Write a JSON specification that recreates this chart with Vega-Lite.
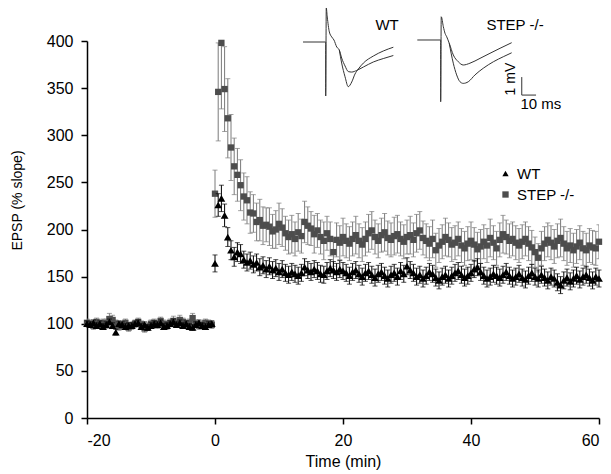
{
"$schema":"https://vega.github.io/schema/vega-lite/v6.json",
"width":512,"height":377,
"autosize":"none",
"padding":{"left":87,"top":41,"right":12,"bottom":56},
"background":"white",
"config":{"font":"Liberation Sans","view":{"stroke":null},
 "axis":{"grid":false,"domainColor":"black","domainWidth":1.5,"tickColor":"black","tickWidth":1.5,"tickSize":6,"labelFontSize":16,"labelColor":"black","titleFontSize":15,"titleFontWeight":"normal","titleColor":"black"},
 "legend":{"orient":"none","legendX":411,"legendY":125,"labelFontSize":15,"symbolSize":40,"rowPadding":5,"labelColor":"black","symbolStrokeWidth":0}
},
"datasets":{
"ep":[
{"g":"STEP -/-","t":-20,"v":101,"e":4},{"g":"STEP -/-","t":-19.5,"v":100,"e":4},{"g":"STEP -/-","t":-19,"v":98,"e":4},{"g":"STEP -/-","t":-18.5,"v":102,"e":4},{"g":"STEP -/-","t":-18,"v":99,"e":4},{"g":"STEP -/-","t":-17.5,"v":101,"e":4},{"g":"STEP -/-","t":-17,"v":100,"e":5},{"g":"STEP -/-","t":-16.5,"v":105,"e":6},{"g":"STEP -/-","t":-16,"v":104,"e":5},{"g":"STEP -/-","t":-15.5,"v":100,"e":4},
{"g":"STEP -/-","t":-15,"v":97,"e":4},{"g":"STEP -/-","t":-14.5,"v":99,"e":4},{"g":"STEP -/-","t":-14,"v":101,"e":4},{"g":"STEP -/-","t":-13.5,"v":96,"e":4},{"g":"STEP -/-","t":-13,"v":98,"e":4},{"g":"STEP -/-","t":-12.5,"v":100,"e":4},{"g":"STEP -/-","t":-12,"v":102,"e":4},{"g":"STEP -/-","t":-11.5,"v":99,"e":4},{"g":"STEP -/-","t":-11,"v":95,"e":4},{"g":"STEP -/-","t":-10.5,"v":97,"e":4},
{"g":"STEP -/-","t":-10,"v":100,"e":4},{"g":"STEP -/-","t":-9.5,"v":101,"e":4},{"g":"STEP -/-","t":-9,"v":99,"e":4},{"g":"STEP -/-","t":-8.5,"v":103,"e":4},{"g":"STEP -/-","t":-8,"v":100,"e":4},{"g":"STEP -/-","t":-7.5,"v":98,"e":4},{"g":"STEP -/-","t":-7,"v":101,"e":4},{"g":"STEP -/-","t":-6.5,"v":103,"e":5},{"g":"STEP -/-","t":-6,"v":100,"e":4},{"g":"STEP -/-","t":-5.5,"v":104,"e":5},
{"g":"STEP -/-","t":-5,"v":102,"e":4},{"g":"STEP -/-","t":-4.5,"v":99,"e":4},{"g":"STEP -/-","t":-4,"v":101,"e":4},{"g":"STEP -/-","t":-3.5,"v":106,"e":5},{"g":"STEP -/-","t":-3,"v":100,"e":4},{"g":"STEP -/-","t":-2.5,"v":98,"e":4},{"g":"STEP -/-","t":-2,"v":99,"e":4},{"g":"STEP -/-","t":-1.5,"v":101,"e":4},{"g":"STEP -/-","t":-1,"v":100,"e":4},{"g":"STEP -/-","t":-0.5,"v":99,"e":4},
{"g":"STEP -/-","t":0,"v":238,"e":25},{"g":"STEP -/-","t":0.5,"v":346,"e":52},{"g":"STEP -/-","t":1,"v":398,"e":70},{"g":"STEP -/-","t":1.5,"v":349,"e":45},{"g":"STEP -/-","t":2,"v":318,"e":42},{"g":"STEP -/-","t":2.5,"v":287,"e":35},{"g":"STEP -/-","t":3,"v":267,"e":30},{"g":"STEP -/-","t":3.5,"v":258,"e":28},{"g":"STEP -/-","t":4,"v":247,"e":27},{"g":"STEP -/-","t":4.5,"v":235,"e":25},
{"g":"STEP -/-","t":5,"v":231,"e":25},{"g":"STEP -/-","t":5.5,"v":218,"e":22},{"g":"STEP -/-","t":6,"v":217,"e":20},{"g":"STEP -/-","t":6.5,"v":208,"e":20},{"g":"STEP -/-","t":7,"v":210,"e":22},{"g":"STEP -/-","t":7.5,"v":204,"e":20},{"g":"STEP -/-","t":8,"v":205,"e":18},{"g":"STEP -/-","t":8.5,"v":203,"e":20},{"g":"STEP -/-","t":9,"v":198,"e":18},{"g":"STEP -/-","t":9.5,"v":200,"e":20},
{"g":"STEP -/-","t":10,"v":206,"e":22},{"g":"STEP -/-","t":10.5,"v":202,"e":20},{"g":"STEP -/-","t":11,"v":196,"e":18},{"g":"STEP -/-","t":11.5,"v":192,"e":18},{"g":"STEP -/-","t":12,"v":195,"e":20},{"g":"STEP -/-","t":12.5,"v":190,"e":18},{"g":"STEP -/-","t":13,"v":197,"e":20},{"g":"STEP -/-","t":13.5,"v":193,"e":18},{"g":"STEP -/-","t":14,"v":208,"e":22},{"g":"STEP -/-","t":14.5,"v":204,"e":20},
{"g":"STEP -/-","t":15,"v":201,"e":18},{"g":"STEP -/-","t":15.5,"v":195,"e":20},{"g":"STEP -/-","t":16,"v":199,"e":18},{"g":"STEP -/-","t":16.5,"v":192,"e":18},{"g":"STEP -/-","t":17,"v":188,"e":20},{"g":"STEP -/-","t":17.5,"v":196,"e":18},{"g":"STEP -/-","t":18,"v":190,"e":18},{"g":"STEP -/-","t":18.5,"v":176,"e":15},{"g":"STEP -/-","t":19,"v":189,"e":18},{"g":"STEP -/-","t":19.5,"v":186,"e":18},
{"g":"STEP -/-","t":20,"v":192,"e":20},{"g":"STEP -/-","t":20.5,"v":188,"e":18},{"g":"STEP -/-","t":21,"v":185,"e":18},{"g":"STEP -/-","t":21.5,"v":190,"e":18},{"g":"STEP -/-","t":22,"v":194,"e":20},{"g":"STEP -/-","t":22.5,"v":188,"e":18},{"g":"STEP -/-","t":23,"v":184,"e":18},{"g":"STEP -/-","t":23.5,"v":190,"e":18},{"g":"STEP -/-","t":24,"v":196,"e":20},{"g":"STEP -/-","t":24.5,"v":199,"e":20},
{"g":"STEP -/-","t":25,"v":192,"e":18},{"g":"STEP -/-","t":25.5,"v":188,"e":18},{"g":"STEP -/-","t":26,"v":194,"e":18},{"g":"STEP -/-","t":26.5,"v":197,"e":20},{"g":"STEP -/-","t":27,"v":191,"e":18},{"g":"STEP -/-","t":27.5,"v":189,"e":18},{"g":"STEP -/-","t":28,"v":193,"e":20},{"g":"STEP -/-","t":28.5,"v":195,"e":20},{"g":"STEP -/-","t":29,"v":190,"e":18},{"g":"STEP -/-","t":29.5,"v":187,"e":18},
{"g":"STEP -/-","t":30,"v":192,"e":18},{"g":"STEP -/-","t":30.5,"v":194,"e":20},{"g":"STEP -/-","t":31,"v":189,"e":18},{"g":"STEP -/-","t":31.5,"v":196,"e":20},{"g":"STEP -/-","t":32,"v":199,"e":20},{"g":"STEP -/-","t":32.5,"v":191,"e":18},{"g":"STEP -/-","t":33,"v":188,"e":18},{"g":"STEP -/-","t":33.5,"v":185,"e":18},{"g":"STEP -/-","t":34,"v":190,"e":20},{"g":"STEP -/-","t":34.5,"v":178,"e":18},
{"g":"STEP -/-","t":35,"v":183,"e":18},{"g":"STEP -/-","t":35.5,"v":187,"e":18},{"g":"STEP -/-","t":36,"v":192,"e":20},{"g":"STEP -/-","t":36.5,"v":189,"e":18},{"g":"STEP -/-","t":37,"v":184,"e":18},{"g":"STEP -/-","t":37.5,"v":186,"e":18},{"g":"STEP -/-","t":38,"v":190,"e":18},{"g":"STEP -/-","t":38.5,"v":183,"e":18},{"g":"STEP -/-","t":39,"v":180,"e":18},{"g":"STEP -/-","t":39.5,"v":185,"e":18},
{"g":"STEP -/-","t":40,"v":188,"e":20},{"g":"STEP -/-","t":40.5,"v":184,"e":18},{"g":"STEP -/-","t":41,"v":179,"e":18},{"g":"STEP -/-","t":41.5,"v":182,"e":18},{"g":"STEP -/-","t":42,"v":187,"e":18},{"g":"STEP -/-","t":42.5,"v":183,"e":18},{"g":"STEP -/-","t":43,"v":191,"e":20},{"g":"STEP -/-","t":43.5,"v":186,"e":18},{"g":"STEP -/-","t":44,"v":180,"e":18},{"g":"STEP -/-","t":44.5,"v":189,"e":18},
{"g":"STEP -/-","t":45,"v":195,"e":20},{"g":"STEP -/-","t":45.5,"v":192,"e":18},{"g":"STEP -/-","t":46,"v":188,"e":18},{"g":"STEP -/-","t":46.5,"v":190,"e":18},{"g":"STEP -/-","t":47,"v":186,"e":18},{"g":"STEP -/-","t":47.5,"v":183,"e":18},{"g":"STEP -/-","t":48,"v":187,"e":18},{"g":"STEP -/-","t":48.5,"v":190,"e":18},{"g":"STEP -/-","t":49,"v":185,"e":18},{"g":"STEP -/-","t":49.5,"v":181,"e":18},
{"g":"STEP -/-","t":50,"v":176,"e":16},{"g":"STEP -/-","t":50.5,"v":170,"e":15},{"g":"STEP -/-","t":51,"v":180,"e":18},{"g":"STEP -/-","t":51.5,"v":185,"e":18},{"g":"STEP -/-","t":52,"v":189,"e":18},{"g":"STEP -/-","t":52.5,"v":186,"e":18},{"g":"STEP -/-","t":53,"v":182,"e":18},{"g":"STEP -/-","t":53.5,"v":188,"e":18},{"g":"STEP -/-","t":54,"v":191,"e":20},{"g":"STEP -/-","t":54.5,"v":185,"e":18},
{"g":"STEP -/-","t":55,"v":180,"e":18},{"g":"STEP -/-","t":55.5,"v":183,"e":18},{"g":"STEP -/-","t":56,"v":178,"e":18},{"g":"STEP -/-","t":56.5,"v":182,"e":18},{"g":"STEP -/-","t":57,"v":186,"e":18},{"g":"STEP -/-","t":57.5,"v":180,"e":18},{"g":"STEP -/-","t":58,"v":178,"e":18},{"g":"STEP -/-","t":58.5,"v":183,"e":18},{"g":"STEP -/-","t":59,"v":181,"e":18},{"g":"STEP -/-","t":59.5,"v":180,"e":18},
{"g":"STEP -/-","t":60,"v":187,"e":18},
{"g":"WT","t":-20,"v":100,"e":3},{"g":"WT","t":-19.5,"v":99,"e":3},{"g":"WT","t":-19,"v":101,"e":3},{"g":"WT","t":-18.5,"v":98,"e":3},{"g":"WT","t":-18,"v":100,"e":3},{"g":"WT","t":-17.5,"v":97,"e":3},{"g":"WT","t":-17,"v":99,"e":3},{"g":"WT","t":-16.5,"v":102,"e":3},{"g":"WT","t":-16,"v":98,"e":3},{"g":"WT","t":-15.5,"v":91,"e":3},
{"g":"WT","t":-15,"v":100,"e":3},{"g":"WT","t":-14.5,"v":99,"e":3},{"g":"WT","t":-14,"v":97,"e":3},{"g":"WT","t":-13.5,"v":98,"e":3},{"g":"WT","t":-13,"v":98,"e":3},{"g":"WT","t":-12.5,"v":100,"e":3},{"g":"WT","t":-12,"v":101,"e":3},{"g":"WT","t":-11.5,"v":97,"e":3},{"g":"WT","t":-11,"v":99,"e":3},{"g":"WT","t":-10.5,"v":96,"e":3},
{"g":"WT","t":-10,"v":98,"e":3},{"g":"WT","t":-9.5,"v":100,"e":3},{"g":"WT","t":-9,"v":99,"e":3},{"g":"WT","t":-8.5,"v":101,"e":3},{"g":"WT","t":-8,"v":97,"e":3},{"g":"WT","t":-7.5,"v":98,"e":3},{"g":"WT","t":-7,"v":100,"e":3},{"g":"WT","t":-6.5,"v":102,"e":3},{"g":"WT","t":-6,"v":99,"e":3},{"g":"WT","t":-5.5,"v":101,"e":3},
{"g":"WT","t":-5,"v":98,"e":3},{"g":"WT","t":-4.5,"v":100,"e":3},{"g":"WT","t":-4,"v":97,"e":3},{"g":"WT","t":-3.5,"v":96,"e":3},{"g":"WT","t":-3,"v":99,"e":3},{"g":"WT","t":-2.5,"v":101,"e":3},{"g":"WT","t":-2,"v":98,"e":3},{"g":"WT","t":-1.5,"v":97,"e":3},{"g":"WT","t":-1,"v":99,"e":3},{"g":"WT","t":-0.5,"v":100,"e":3},
{"g":"WT","t":0,"v":164,"e":9},{"g":"WT","t":0.5,"v":226,"e":12},{"g":"WT","t":1,"v":233,"e":14},{"g":"WT","t":1.5,"v":215,"e":12},{"g":"WT","t":2,"v":192,"e":10},{"g":"WT","t":2.5,"v":178,"e":10},{"g":"WT","t":3,"v":171,"e":10},{"g":"WT","t":3.5,"v":176,"e":10},{"g":"WT","t":4,"v":174,"e":10},{"g":"WT","t":4.5,"v":168,"e":9},
{"g":"WT","t":5,"v":165,"e":9},{"g":"WT","t":5.5,"v":167,"e":9},{"g":"WT","t":6,"v":163,"e":9},{"g":"WT","t":6.5,"v":165,"e":9},{"g":"WT","t":7,"v":160,"e":9},{"g":"WT","t":7.5,"v":162,"e":9},{"g":"WT","t":8,"v":158,"e":9},{"g":"WT","t":8.5,"v":161,"e":9},{"g":"WT","t":9,"v":157,"e":9},{"g":"WT","t":9.5,"v":159,"e":9},
{"g":"WT","t":10,"v":155,"e":9},{"g":"WT","t":10.5,"v":158,"e":9},{"g":"WT","t":11,"v":154,"e":9},{"g":"WT","t":11.5,"v":152,"e":9},{"g":"WT","t":12,"v":155,"e":9},{"g":"WT","t":12.5,"v":153,"e":9},{"g":"WT","t":13,"v":151,"e":9},{"g":"WT","t":13.5,"v":154,"e":9},{"g":"WT","t":14,"v":160,"e":9},{"g":"WT","t":14.5,"v":157,"e":9},
{"g":"WT","t":15,"v":155,"e":9},{"g":"WT","t":15.5,"v":158,"e":9},{"g":"WT","t":16,"v":156,"e":9},{"g":"WT","t":16.5,"v":153,"e":9},{"g":"WT","t":17,"v":152,"e":9},{"g":"WT","t":17.5,"v":156,"e":9},{"g":"WT","t":18,"v":159,"e":9},{"g":"WT","t":18.5,"v":157,"e":9},{"g":"WT","t":19,"v":155,"e":9},{"g":"WT","t":19.5,"v":158,"e":9},
{"g":"WT","t":20,"v":156,"e":9},{"g":"WT","t":20.5,"v":154,"e":9},{"g":"WT","t":21,"v":151,"e":9},{"g":"WT","t":21.5,"v":155,"e":9},{"g":"WT","t":22,"v":157,"e":9},{"g":"WT","t":22.5,"v":153,"e":9},{"g":"WT","t":23,"v":150,"e":9},{"g":"WT","t":23.5,"v":154,"e":9},{"g":"WT","t":24,"v":156,"e":9},{"g":"WT","t":24.5,"v":152,"e":9},
{"g":"WT","t":25,"v":149,"e":9},{"g":"WT","t":25.5,"v":153,"e":9},{"g":"WT","t":26,"v":155,"e":9},{"g":"WT","t":26.5,"v":151,"e":9},{"g":"WT","t":27,"v":148,"e":9},{"g":"WT","t":27.5,"v":152,"e":9},{"g":"WT","t":28,"v":154,"e":9},{"g":"WT","t":28.5,"v":150,"e":9},{"g":"WT","t":29,"v":156,"e":9},{"g":"WT","t":29.5,"v":153,"e":9},
{"g":"WT","t":30,"v":161,"e":9},{"g":"WT","t":30.5,"v":157,"e":9},{"g":"WT","t":31,"v":154,"e":9},{"g":"WT","t":31.5,"v":150,"e":9},{"g":"WT","t":32,"v":152,"e":9},{"g":"WT","t":32.5,"v":148,"e":9},{"g":"WT","t":33,"v":151,"e":9},{"g":"WT","t":33.5,"v":155,"e":9},{"g":"WT","t":34,"v":153,"e":9},{"g":"WT","t":34.5,"v":149,"e":9},
{"g":"WT","t":35,"v":146,"e":9},{"g":"WT","t":35.5,"v":150,"e":9},{"g":"WT","t":36,"v":152,"e":9},{"g":"WT","t":36.5,"v":148,"e":9},{"g":"WT","t":37,"v":151,"e":9},{"g":"WT","t":37.5,"v":154,"e":9},{"g":"WT","t":38,"v":156,"e":9},{"g":"WT","t":38.5,"v":152,"e":9},{"g":"WT","t":39,"v":149,"e":9},{"g":"WT","t":39.5,"v":151,"e":9},
{"g":"WT","t":40,"v":154,"e":9},{"g":"WT","t":40.5,"v":158,"e":9},{"g":"WT","t":41,"v":160,"e":9},{"g":"WT","t":41.5,"v":155,"e":9},{"g":"WT","t":42,"v":151,"e":9},{"g":"WT","t":42.5,"v":148,"e":9},{"g":"WT","t":43,"v":150,"e":9},{"g":"WT","t":43.5,"v":153,"e":9},{"g":"WT","t":44,"v":151,"e":9},{"g":"WT","t":44.5,"v":149,"e":9},
{"g":"WT","t":45,"v":152,"e":9},{"g":"WT","t":45.5,"v":155,"e":9},{"g":"WT","t":46,"v":151,"e":9},{"g":"WT","t":46.5,"v":148,"e":9},{"g":"WT","t":47,"v":150,"e":9},{"g":"WT","t":47.5,"v":153,"e":9},{"g":"WT","t":48,"v":149,"e":9},{"g":"WT","t":48.5,"v":147,"e":9},{"g":"WT","t":49,"v":151,"e":9},{"g":"WT","t":49.5,"v":154,"e":9},
{"g":"WT","t":50,"v":150,"e":9},{"g":"WT","t":50.5,"v":148,"e":9},{"g":"WT","t":51,"v":152,"e":9},{"g":"WT","t":51.5,"v":149,"e":9},{"g":"WT","t":52,"v":146,"e":9},{"g":"WT","t":52.5,"v":150,"e":9},{"g":"WT","t":53,"v":148,"e":9},{"g":"WT","t":53.5,"v":144,"e":9},{"g":"WT","t":54,"v":141,"e":9},{"g":"WT","t":54.5,"v":146,"e":9},
{"g":"WT","t":55,"v":149,"e":9},{"g":"WT","t":55.5,"v":145,"e":9},{"g":"WT","t":56,"v":148,"e":9},{"g":"WT","t":56.5,"v":151,"e":9},{"g":"WT","t":57,"v":147,"e":9},{"g":"WT","t":57.5,"v":150,"e":9},{"g":"WT","t":58,"v":152,"e":9},{"g":"WT","t":58.5,"v":149,"e":9},{"g":"WT","t":59,"v":146,"e":9},{"g":"WT","t":59.5,"v":150,"e":9},
{"g":"WT","t":60,"v":148,"e":9}
],
"tr":[
{"p":"WT","s":"a","i":0,"ms":-16.2,"mv":0},{"p":"WT","s":"a","i":1,"ms":0,"mv":0},{"p":"WT","s":"a","i":2,"ms":0,"mv":-3.0},{"p":"WT","s":"a","i":3,"ms":0.4,"mv":1.89},{"p":"WT","s":"a","i":4,"ms":1.1,"mv":1.39},{"p":"WT","s":"a","i":5,"ms":2.6,"mv":0.56},{"p":"WT","s":"a","i":6,"ms":4.3,"mv":0.28},{"p":"WT","s":"a","i":7,"ms":5.9,"mv":0.11},{"p":"WT","s":"a","i":8,"ms":7.9,"mv":-0.28},{"p":"WT","s":"a","i":9,"ms":9.7,"mv":-0.44},
{"p":"WT","s":"a","i":10,"ms":11.4,"mv":-0.89},{"p":"WT","s":"a","i":11,"ms":13.8,"mv":-1.33},{"p":"WT","s":"a","i":12,"ms":16.1,"mv":-1.64},{"p":"WT","s":"a","i":13,"ms":18.6,"mv":-1.67},{"p":"WT","s":"a","i":14,"ms":22.1,"mv":-1.58},{"p":"WT","s":"a","i":15,"ms":26.9,"mv":-1.39},{"p":"WT","s":"a","i":16,"ms":34.0,"mv":-1.11},{"p":"WT","s":"a","i":17,"ms":41.1,"mv":-0.92},{"p":"WT","s":"a","i":18,"ms":48.3,"mv":-0.75},
{"p":"WT","s":"b","i":0,"ms":9.7,"mv":-0.44},{"p":"WT","s":"b","i":1,"ms":11.4,"mv":-1.17},{"p":"WT","s":"b","i":2,"ms":13.8,"mv":-1.93},{"p":"WT","s":"b","i":3,"ms":16.1,"mv":-2.48},{"p":"WT","s":"b","i":4,"ms":18.6,"mv":-2.22},{"p":"WT","s":"b","i":5,"ms":20.9,"mv":-1.78},{"p":"WT","s":"b","i":6,"ms":23.3,"mv":-1.5},{"p":"WT","s":"b","i":7,"ms":26.9,"mv":-1.17},{"p":"WT","s":"b","i":8,"ms":34.0,"mv":-0.78},{"p":"WT","s":"b","i":9,"ms":41.1,"mv":-0.5},{"p":"WT","s":"b","i":10,"ms":48.3,"mv":-0.29},
{"p":"STEP","s":"a","i":0,"ms":-16.7,"mv":0},{"p":"STEP","s":"a","i":1,"ms":0,"mv":0},{"p":"STEP","s":"a","i":2,"ms":0,"mv":-3.43},{"p":"STEP","s":"a","i":3,"ms":0.4,"mv":1.29},{"p":"STEP","s":"a","i":4,"ms":1.9,"mv":0.74},{"p":"STEP","s":"a","i":5,"ms":3.1,"mv":0.37},{"p":"STEP","s":"a","i":6,"ms":4.3,"mv":0.18},{"p":"STEP","s":"a","i":7,"ms":6.1,"mv":-0.18},
{"p":"STEP","s":"a","i":8,"ms":9.0,"mv":-0.83},{"p":"STEP","s":"a","i":9,"ms":12.6,"mv":-1.21},{"p":"STEP","s":"a","i":10,"ms":16.1,"mv":-1.39},{"p":"STEP","s":"a","i":11,"ms":20.9,"mv":-1.29},{"p":"STEP","s":"a","i":12,"ms":28.1,"mv":-1.02},{"p":"STEP","s":"a","i":13,"ms":35.2,"mv":-0.74},{"p":"STEP","s":"a","i":14,"ms":42.4,"mv":-0.46},{"p":"STEP","s":"a","i":15,"ms":50.7,"mv":-0.15},
{"p":"STEP","s":"b","i":0,"ms":6.1,"mv":-0.18},{"p":"STEP","s":"b","i":1,"ms":9.0,"mv":-1.29},{"p":"STEP","s":"b","i":2,"ms":11.4,"mv":-1.94},{"p":"STEP","s":"b","i":3,"ms":13.8,"mv":-2.32},{"p":"STEP","s":"b","i":4,"ms":16.1,"mv":-2.41},{"p":"STEP","s":"b","i":5,"ms":19.7,"mv":-2.32},{"p":"STEP","s":"b","i":6,"ms":24.5,"mv":-1.94},{"p":"STEP","s":"b","i":7,"ms":30.4,"mv":-1.57},{"p":"STEP","s":"b","i":8,"ms":37.6,"mv":-1.21},{"p":"STEP","s":"b","i":9,"ms":44.7,"mv":-0.93},{"p":"STEP","s":"b","i":10,"ms":50.7,"mv":-0.71},
{"p":"STEP","s":"bar","i":0,"ms":57.9,"mv":-2.06},{"p":"STEP","s":"bar","i":1,"ms":57.9,"mv":-3.06},{"p":"STEP","s":"bar","i":2,"ms":68.1,"mv":-3.06}
]
},
"layer":[
{"data":{"name":"ep"},
 "encoding":{
  "x":{"field":"t","type":"quantitative","scale":{"domain":[-20,60],"nice":false,"zero":false},"axis":{"title":"Time (min)","values":[-20,0,20,40,60],"labelExpr":"'' + datum.value","labelPadding":8,"titlePadding":5,"titleFontSize":16}},
  "y":{"field":"v","type":"quantitative","scale":{"domain":[0,400],"nice":false},"axis":{"title":"EPSP (% slope)","values":[0,50,100,150,200,250,300,350,400],"labelPadding":8,"titlePadding":22,"titleY":159,"titleFontSize":14}}
 },
 "layer":[
  {"transform":[{"filter":"datum.g == 'STEP -/-'"}],"mark":{"type":"errorbar","ticks":true,"color":"#7a7a7a","clip":true},"encoding":{"yError":{"field":"e"}}},
  {"transform":[{"filter":"datum.g == 'STEP -/-'"}],"mark":{"type":"point","filled":true,"opacity":1,"size":40},
   "encoding":{"color":{"field":"g","type":"nominal","scale":{"domain":["WT","STEP -/-"],"range":["#000000","#4d4d4d"]},"legend":{"title":null,"orient":"none","legendX":411,"legendY":125}},
               "shape":{"field":"g","type":"nominal","scale":{"domain":["WT","STEP -/-"],"range":["triangle-up","square"]},"legend":{"title":null,"orient":"none","legendX":411,"legendY":125}}}},
  {"transform":[{"filter":"datum.g == 'WT'"}],"mark":{"type":"errorbar","ticks":true,"color":"#000000"},"encoding":{"yError":{"field":"e"}}},
  {"transform":[{"filter":"datum.g == 'WT'"}],"mark":{"type":"point","filled":true,"opacity":1,"size":60},
   "encoding":{"color":{"field":"g","type":"nominal","scale":{"domain":["WT","STEP -/-"],"range":["#000000","#4d4d4d"]},"legend":{"title":null,"orient":"none","legendX":411,"legendY":125}},
               "shape":{"field":"g","type":"nominal","scale":{"domain":["WT","STEP -/-"],"range":["triangle-up","square"]},"legend":{"title":null,"orient":"none","legendX":411,"legendY":125}}}}
 ]},
{"encoding":{
  "x":{"field":"ms","type":"quantitative","scale":{"domain":[-170.5,195.2],"nice":false,"zero":false},"axis":null},
  "y":{"field":"mv","type":"quantitative","scale":{"domain":[-20.89,0.056],"nice":false,"zero":false},"axis":null}},
 "layer":[
  {"data":{"name":"tr"},"transform":[{"filter":"datum.p == 'WT'"}],"mark":{"type":"line","color":"#333333","strokeWidth":1,"interpolate":"monotone"},"encoding":{"detail":{"field":"s","type":"nominal"},"order":{"field":"i","type":"quantitative"}}},
  {"data":{"values":[{"ms":43.8,"mv":0.94,"txt":"WT"}]},"mark":{"type":"text","fontSize":15,"color":"black"},"encoding":{"text":{"field":"txt"}}}
 ]},
{"encoding":{
  "x":{"field":"ms","type":"quantitative","scale":{"domain":[-252.6,113.07],"nice":false,"zero":false},"axis":null},
  "y":{"field":"mv","type":"quantitative","scale":{"domain":[-21.0,-0.056],"nice":false,"zero":false},"axis":null}},
 "layer":[
  {"data":{"name":"tr"},"transform":[{"filter":"datum.p == 'STEP' && datum.s != 'bar'"}],"mark":{"type":"line","color":"#333333","strokeWidth":1,"interpolate":"monotone"},"encoding":{"detail":{"field":"s","type":"nominal"},"order":{"field":"i","type":"quantitative"}}},
  {"data":{"name":"tr"},"transform":[{"filter":"datum.s == 'bar'"}],"mark":{"type":"line","color":"#333333","strokeWidth":1},"encoding":{"order":{"field":"i","type":"quantitative"}}},
  {"data":{"values":[{"ms":53.1,"mv":0.83,"txt":"STEP -/-"},{"ms":71.6,"mv":-3.56,"txt":"10 ms"}]},"mark":{"type":"text","fontSize":15,"color":"black"},"encoding":{"text":{"field":"txt"}}},
  {"data":{"values":[{"ms":50,"mv":-2.17,"txt":"1 mV"}]},"mark":{"type":"text","fontSize":14,"color":"black","angle":270},"encoding":{"text":{"field":"txt"}}}
 ]}
],
"resolve":{"scale":{"x":"independent","y":"independent"}}
}
